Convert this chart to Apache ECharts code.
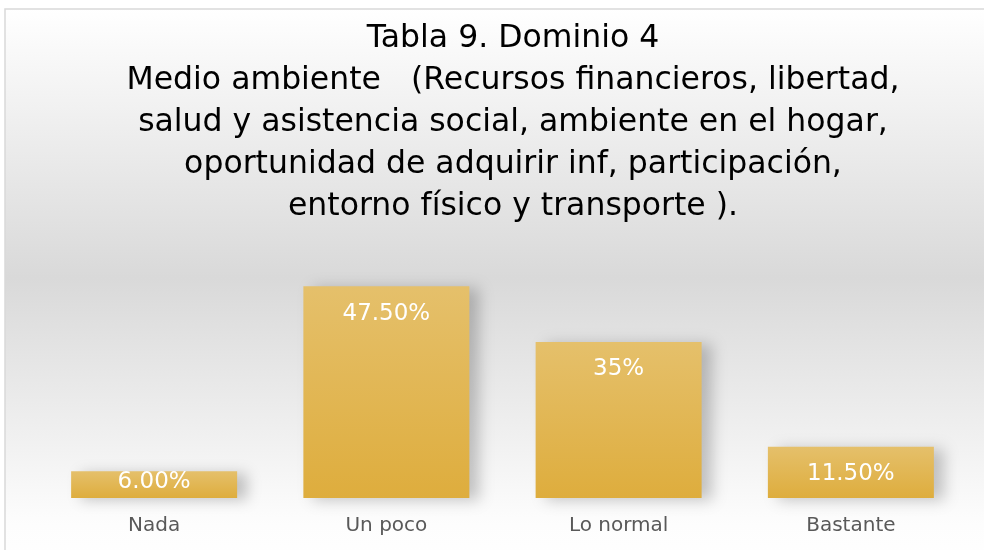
<!DOCTYPE html>
<html>
<head>
<meta charset="utf-8">
<script src="https://cdn.jsdelivr.net/npm/echarts@6/dist/echarts.min.js"></script>
<style>
	html, body { margin: 0; padding: 0; background: #fff; }
	#main { width: 984px; height: 550px; }
</style>
</head>
<body>
<div id="main"></div>
<script>
var categories = ['Nada', 'Un poco', 'Lo normal', 'Bastante'];
var values = [6, 47.5, 35, 11.5];
var valueLabels = ['6.00%', '47.50%', '35%', '11.50%'];
var titleLines = [
	'Tabla 9. Dominio 4',
	'Medio ambiente   (Recursos financieros, libertad,',
	'salud y asistencia social, ambiente en el hogar,',
	'oportunidad de adquirir inf, participación,',
	'entorno físico y transporte ).'
];

function initChart() {
	var myChart = echarts.init(document.getElementById('main'));
	var barData = [];
	for (var i = 0; i < values.length; i++) {
		var item = { value: values[i] };
		// la barra pequeña lleva la etiqueta centrada
		if (values[i] < 10) {
			item.label = { position: 'inside', offset: [0, -3] };
		}
		barData.push(item);
	}
	var option = {
		animation: false,
		backgroundColor: '#ffffff',
		graphic: [{
			type: 'rect',
			z: -10,
			shape: { x: 5, y: 9, width: 1000, height: 560 },
			style: {
				fill: new echarts.graphic.LinearGradient(0, 0, 0, 1, [
					{ offset: 0, color: '#ffffff' },
					{ offset: 0.48, color: '#d9d9d9' },
					{ offset: 0.92, color: '#fdfdfd' },
					{ offset: 1, color: '#ffffff' }
				]),
				stroke: '#d9d9d9',
				lineWidth: 1.5
			}
		}],
		title: {
			text: titleLines.join('\n'),
			left: 508,
			top: 13,
			textAlign: 'center',
			textStyle: {
				fontFamily: 'DejaVu Sans',
				fontSize: 31.5,
				fontWeight: 'normal',
				color: '#000000',
				lineHeight: 42
			}
		},
		grid: {
			left: 38,
			right: 17,
			top: 275,
			bottom: 52
		},
		xAxis: {
			type: 'category',
			data: categories,
			axisLine: { show: false },
			axisTick: { show: false },
			axisLabel: {
				margin: 18,
				fontFamily: 'DejaVu Sans',
				fontSize: 20,
				color: '#595959'
			}
		},
		yAxis: {
			type: 'value',
			min: 0,
			max: 50,
			show: false,
			splitLine: { show: false }
		},
		series: [{
			type: 'bar',
			data: barData,
			barWidth: 166,
			itemStyle: {
				color: new echarts.graphic.LinearGradient(0, 0, 0, 1, [
					{ offset: 0, color: '#e5c06b' },
					{ offset: 1, color: '#dead3d' }
				]),
				shadowColor: 'rgba(0,0,0,0.22)',
				shadowBlur: 14,
				shadowOffsetX: 10,
				shadowOffsetY: 2
			},
			label: {
				show: true,
				position: 'insideTop',
				distance: 16,
				fontFamily: 'DejaVu Sans',
				fontSize: 23,
				color: '#ffffff',
				formatter: function (p) {
					return valueLabels[p.dataIndex];
				}
			}
		}]
	};
	myChart.setOption(option);
}
initChart();
</script>
</body>
</html>
